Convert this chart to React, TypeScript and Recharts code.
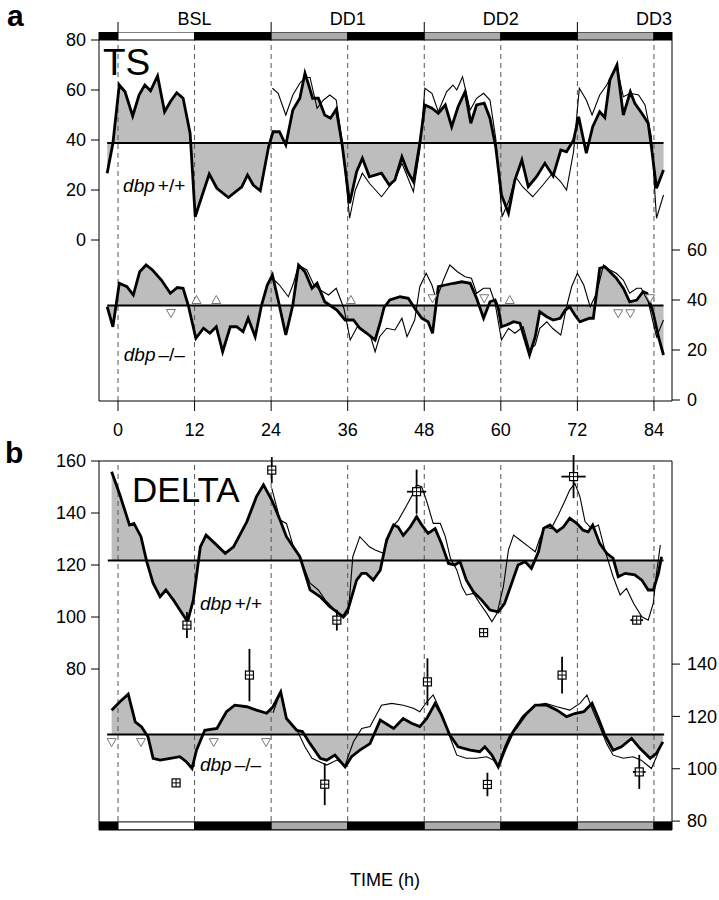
import React from "react";
import {
  Area,
  ComposedChart,
  ErrorBar,
  Line,
  ReferenceArea,
  ReferenceDot,
  ReferenceLine,
  Scatter,
  XAxis,
  YAxis
} from "recharts";

type Pair = [number, number];
// hour, value, y error, x error
type Peak = [number, number, number, number];

document.body.style.margin = "0";

const FONT = "'Liberation Sans', Arial, Helvetica, sans-serif";
const NARROW = "'Liberation Sans Narrow', 'Arial Narrow', 'Liberation Sans', Arial, sans-serif";

// light schedule: baseline LD day, then three days of constant darkness
const schedule: [number, number, string][] = [
  [-3, 0, "dark"],
  [0, 12, "light"],
  [12, 24, "dark"],
  [24, 36, "subjective"],
  [36, 48, "dark"],
  [48, 60, "subjective"],
  [60, 72, "dark"],
  [72, 84, "subjective"],
  [84, 87, "dark"]
];
const phaseFill: Record<string, string> = { dark: "#000", light: "#fff", subjective: "#ababab" };

const hourTicks = [0, 12, 24, 36, 48, 60, 72, 84];
const dayStartTicks = [0, 24, 48, 72];
const phaseLabelHours = [12, 36, 60, 84];
const phaseNames = ["BSL", "DD1", "DD2", "DD3"];

const tsLeftTicks = [0, 20, 40, 60, 80];
const tsRightTicks = [0, 20, 40, 60];
const deltaLeftTicks = [80, 100, 120, 140, 160];
const deltaRightTicks = [80, 100, 120, 140];

// reference (horizontal) levels
const tsWtBase = 38.8;
const tsKoBase = 37.8;
const deltaWtBase = 121.7;
const deltaKoBase = 113.1;

// TS, dbp +/+ (left axis)
const tsWtThick: Pair[] = [
  [-1.7, 26.7], [-0.8, 38.7], [0.2, 62], [1.1, 59.3], [2.3, 49.6], [3.3, 58], [4.2, 62], [5.1, 59.7],
  [6.2, 65.6], [7.3, 51.3], [8.2, 55.3], [9.2, 58.9], [10.2, 56.7], [11.3, 42.7], [12.1, 9.3], [12.6, 13.3],
  [14.3, 26.4], [15.5, 20.7], [17.3, 17], [19.4, 21.3], [20.3, 26], [21.2, 22], [22.3, 19.7], [23.6, 37.3],
  [24.3, 43.3], [25.3, 43.3], [26.3, 38], [27.4, 52], [28.5, 56.7], [29.3, 66.7], [29.8, 62.7], [30.5, 56.7],
  [31.4, 56.7], [32.4, 50], [33.3, 48.7], [34.2, 52.3], [35.1, 38.7], [36.3, 14.7], [37.4, 27.3], [38.3, 32.7],
  [39.4, 25.3], [41.3, 26.7], [42.5, 22], [43.4, 24], [44.5, 33.3], [45.4, 27.3], [46.3, 23.3], [47.3, 38.7],
  [48.1, 54], [49.2, 52.7], [50.2, 50.7], [51.3, 54], [52.3, 45.3], [53.3, 53.3], [54.4, 59.3], [55.3, 46.7],
  [56.2, 54], [57.4, 54.7], [58.3, 48.7], [59.2, 37.3], [60.1, 18], [61.2, 10.7], [62.2, 24], [63.3, 32],
  [64.3, 21.3], [65.6, 25.3], [66.9, 30.7], [68.2, 25.6], [69.4, 36], [70.3, 35.3], [71.4, 40], [72.2, 49.3],
  [73.4, 34.7], [74.4, 45.3], [75.5, 51.3], [76.3, 49], [77.1, 64], [78.2, 70], [79.2, 50], [80.3, 59.3],
  [81, 54.7], [82.1, 50.7], [83.1, 46.7], [83.6, 37.3], [84.4, 20.7], [85.5, 28]
];
const tsWtThin: Pair[] = [
  [24.2, 60.7], [25.1, 58.7], [26.3, 50], [27.4, 58], [28.5, 62.7], [29.3, 65], [30.1, 65], [31.2, 52.7],
  [32.2, 56], [33.2, 58], [34.2, 56], [35.1, 40], [36.3, 8.7], [37.2, 20], [38.3, 26.7], [39.4, 22.7],
  [41.3, 17.3], [42.5, 21.3], [43.4, 24], [44.5, 30.7], [46.3, 19.3], [47.3, 36], [48.1, 60.7], [49.2, 58.7],
  [50.2, 51.3], [51.5, 59.3], [52.5, 62], [53.1, 60], [54, 65.3], [55.2, 52], [56.2, 56.7], [57.3, 58.7],
  [58.3, 56], [59.2, 40.7], [60.2, 9.3], [61.3, 16], [62.3, 25.3], [63.4, 21.3], [65, 17.3], [66.6, 22],
  [68.1, 26.7], [69.4, 23.3], [70.3, 20], [71.4, 35.3], [72.3, 60.7], [73.4, 56], [74.3, 50], [75.5, 58],
  [76.6, 62], [77.5, 66.7], [78.2, 69.3], [79.2, 57.3], [80.3, 58.7], [81.6, 58], [82.6, 54], [83.6, 41.3],
  [84.4, 8.7], [85.5, 18]
];

// TS, dbp -/- (right axis)
const tsKoThick: Pair[] = [
  [-1.7, 37.3], [-0.8, 29.3], [0.2, 46.7], [1.4, 45.3], [2.4, 42], [3.4, 51.3], [4.4, 54], [5.4, 52],
  [6.8, 48], [8.2, 42.7], [9.3, 45], [10.2, 44.7], [11, 38], [12.2, 24.7], [13.4, 28.7], [14.4, 26.7],
  [15.4, 29.3], [16.4, 19.3], [17.6, 29.3], [18.6, 29.3], [19.6, 27.3], [20.4, 32.7], [21.5, 25.3], [22.5, 38],
  [23.4, 46], [24.2, 50], [25.1, 40], [26.3, 26], [27.4, 38], [28.3, 54], [29.3, 51.3], [30.4, 44.7],
  [31.2, 46.7], [32.4, 39.3], [34.3, 36], [35.6, 32], [36.9, 32], [37.9, 28.7], [39, 26.7], [40.3, 24],
  [41.1, 31], [41.7, 37], [42.6, 40], [44.2, 41.3], [45.5, 40.7], [46.5, 36.7], [47.6, 32.7], [48.6, 31.3],
  [49.3, 26.7], [50.2, 45.3], [51.3, 46], [52.6, 46.7], [53.9, 47.3], [55.2, 46.7], [56.2, 40.7], [57.3, 32.7],
  [58.3, 39.3], [59.1, 40], [59.6, 36.7], [60.1, 29.3], [60.9, 30], [62, 31.3], [63, 30.7], [63.8, 24],
  [64.5, 18], [65.4, 25.3], [66.1, 35.3], [67.2, 33.3], [68.2, 32], [69.3, 32.7], [70.1, 36], [70.8, 37.3],
  [71.6, 34], [72.4, 31.3], [73.9, 32.7], [74.5, 32.7], [75.5, 52.7], [76.3, 53.3], [77.1, 51.3], [78.1, 48.7],
  [79.2, 44.7], [80.2, 39.3], [81.3, 40], [82.3, 43.3], [82.9, 42.7], [83.9, 34.7], [84.7, 25.3], [85.5, 18]
];
const tsKoThin: Pair[] = [
  [24.2, 48.7], [25.3, 46], [26.7, 41.3], [27.5, 46.7], [28.3, 54], [29.6, 52], [30.7, 46], [31.7, 44],
  [33, 42], [34.2, 44.7], [35.4, 36.7], [36.4, 24], [37.5, 29.3], [38.3, 28], [39.6, 25.3], [40.3, 19.3],
  [41, 25.3], [42.1, 28.7], [43.4, 28], [44.5, 32.7], [45.3, 25.3], [46.5, 32], [47.3, 45.3], [48.3, 50.7],
  [49.2, 46], [49.9, 40], [51, 48], [52, 54], [53.2, 51.3], [54.4, 49.3], [55.4, 48.7], [56.2, 42.7],
  [57.3, 44.7], [58.3, 44.7], [59.1, 38.7], [60.1, 24], [61.2, 28.7], [62.2, 26.7], [63.5, 29.3], [64.5, 20],
  [65.4, 22], [66.1, 28.7], [67.2, 31.3], [68.1, 28.7], [69.4, 26], [70.3, 37.3], [71.1, 45.3], [72, 50.7],
  [73, 46], [74, 37.3], [75, 42.7], [76.1, 54], [77.1, 52], [78.1, 50.7], [79.2, 48], [80.2, 42.7],
  [81.3, 44.7], [82, 44.7], [83.1, 39.3], [84.4, 25.3], [85.5, 32]
];
const tsKoUp: Pair[] = [[12.3, 40], [15.4, 40], [36.5, 40], [61.4, 40]];
const tsKoDown: Pair[] = [[8.3, 34.8], [49.3, 40.7], [57.4, 40.7], [78.4, 34.7], [80.3, 34.7], [83.4, 40.7]];

// DELTA, dbp +/+ (left axis)
const deltaWtThick: Pair[] = [
  [-1, 155.9], [0.3, 146.9], [1.8, 135.4], [2.5, 136], [3.6, 130.9], [4.5, 121.3], [5.5, 113], [6.6, 107.8],
  [7.5, 110.4], [8.7, 106.5], [9.7, 102.7], [10.9, 98.2], [11.8, 106.5], [12.9, 127], [13.8, 131.5], [14.9, 129],
  [16.8, 124.5], [18.1, 127], [20.2, 136.7], [21.7, 146.3], [22.8, 150.8], [24.1, 145], [25.4, 137.3], [26.4, 130.9],
  [28.5, 123.2], [30.1, 110.4], [31.7, 107.8], [33.2, 104], [35.3, 100.1], [36.1, 103.3], [37.4, 114.2], [38.2, 116.8],
  [38.9, 116.8], [40, 114.2], [41.1, 118], [42.1, 129.6], [43.2, 135.4], [43.9, 134.6], [44.7, 131.4], [45.8, 134.6],
  [46.8, 138.6], [47.6, 135.4], [48.6, 132.2], [49.7, 134], [50.7, 128.3], [51.8, 120.6], [52.8, 120], [53.6, 121.3],
  [54.6, 114.2], [55.7, 109.7], [57, 106.5], [58.3, 102.7], [59.6, 102], [60.6, 105.3], [61.7, 113], [62.7, 120],
  [63.8, 121.3], [64.8, 118.7], [65.9, 125.1], [66.7, 134.1], [67.7, 135.4], [68.8, 132.8], [69.8, 134.6], [70.8, 138],
  [71.9, 136], [72.9, 133.4], [73.7, 132.8], [74.4, 135.4], [75.5, 128.3], [76.6, 124.5], [77.6, 122.6], [78.4, 115.5],
  [79.5, 116.8], [81, 116.2], [82.1, 114.2], [83.1, 110.4], [83.9, 110.4], [84.7, 116.8], [85.2, 123.2]
];
const deltaWtThin: Pair[] = [
  [24.1, 149.5], [25.4, 137.3], [26.4, 136], [27.5, 127], [28.5, 123.2], [30.1, 113], [31.4, 110.4], [32.5, 106.5],
  [35.3, 99.5], [36.1, 101.5], [36.8, 123.2], [37.9, 130.9], [39.4, 127], [40.3, 125.8], [41.6, 124.5], [42.9, 134.6],
  [43.9, 137.1], [45, 141.8], [46, 146.3], [46.8, 150.8], [47.6, 150.1], [48.4, 144.4], [49.4, 136], [50.5, 136],
  [51.3, 130.9], [52.1, 122.6], [53.1, 118.1], [53.9, 111.7], [54.6, 108.5], [55.7, 109.1], [56.7, 105.3], [57.8, 101.4],
  [58.6, 98.2], [59.4, 101.4], [60.4, 111.7], [61.2, 125.8], [62, 131.5], [63, 129.6], [64.4, 127], [65.4, 125.1],
  [66.1, 130.2], [66.9, 134.6], [67.9, 134], [69, 139.2], [70, 144.4], [70.8, 148.8], [71.6, 151.4], [72.4, 146.3],
  [73.2, 136.7], [74.2, 134], [75.3, 135.4], [76.3, 125.8], [77.6, 115.5], [78.7, 108.5], [79.7, 111], [80.8, 105.3],
  [82.1, 100.1], [83.1, 98.8], [83.9, 105.3], [84.4, 116.8], [85, 127.7]
];
const deltaWtPeaks: Peak[] = [
  [10.8, 96.9, 5, 0], [24.1, 156.5, 5, 0], [34.3, 98.8, 4, 0], [46.8, 148.2, 8.5, 1.5],
  [57.3, 94, 1, 0], [71.4, 154, 8.3, 1.9], [81.3, 98.8, 1, 1]
];

// DELTA, dbp -/- (right axis)
const deltaKoThick: Pair[] = [
  [-1, 122.4], [0.3, 125.6], [1.6, 128.5], [2.7, 117.9], [3.7, 116], [4.7, 112.2], [5.5, 104], [6.6, 103.3],
  [8.2, 104], [9.7, 104.6], [10.7, 102.7], [11.6, 100.1], [12.3, 107.1], [13.6, 114.7], [15.5, 115.4], [17, 121.8],
  [18.3, 124.3], [20.2, 123.7], [21.7, 122.4], [23.3, 121.2], [24.3, 123.7], [25.5, 129.4], [26.4, 119.2], [28, 114.7],
  [28.9, 114.2], [30.1, 109.6], [31.7, 104], [32.7, 103.3], [34, 105.2], [35.6, 100.7], [36.6, 104.6], [37.9, 107.1],
  [39.5, 109.6], [41.1, 118.6], [43.2, 115.4], [44.7, 119.2], [46, 117.4], [47.3, 116.1], [48.4, 119.2], [49.7, 125],
  [50.7, 120.6], [52, 112.9], [53.3, 108.4], [55.2, 107.1], [56.7, 106.5], [57.5, 108.4], [58.6, 105.2], [59.6, 100.7],
  [60.6, 107.1], [61.9, 114.1], [63.5, 119.9], [65.4, 124.3], [67.2, 124.3], [68.8, 122.4], [70.3, 119.9], [71.6, 121.1],
  [73, 121.8], [74.3, 125], [75.3, 119.2], [76.3, 112.9], [77.6, 107.1], [78.9, 108.4], [80.5, 111.6], [81.8, 107.8],
  [83.4, 104], [84.4, 105.9], [85.4, 110.3]
];
const deltaKoThin: Pair[] = [
  [24.3, 121.4], [25.5, 129.4], [26.4, 119.2], [28, 115], [29.3, 108.4], [30.4, 104], [32.7, 101.4], [34.3, 103.3],
  [35.6, 101.4], [36.9, 110.3], [38.2, 115.4], [39.5, 116.1], [41.3, 124.3], [42.9, 125], [44.7, 124.3], [46.3, 123.1],
  [47.3, 121.8], [48.4, 125.6], [49.4, 128.2], [50.5, 122.4], [52, 112.2], [53.1, 105.2], [54.6, 104], [56.2, 104],
  [57.8, 104.6], [58.8, 103.3], [59.6, 101.4], [60.6, 108.4], [61.4, 112.9], [62.5, 115.4], [64, 120.6], [65.4, 124.3],
  [67, 125], [68.8, 123.7], [70.8, 122.4], [72.4, 125], [73.5, 128.2], [74.5, 121.8], [75.5, 116.1], [76.6, 109.6],
  [77.6, 105.2], [79.2, 104], [80.7, 104.6], [82, 103.3], [83.6, 100.1], [84.4, 104.6], [85.2, 109.6]
];
const deltaKoPeaks: Peak[] = [
  [9.1, 94.6, 1, 0], [20.6, 135.8, 10, 0], [32.4, 94.1, 8, 0], [48.5, 133.2, 9, 0],
  [57.9, 94, 4.5, 0], [69.6, 135.8, 7, 0], [81.7, 98.8, 6.5, 1]
];
const deltaKoDown: Pair[] = [[-1, 110.2], [3.6, 110.2], [15, 110.2], [23.2, 110.2]];

// axis windows (set so both panels share the page frame of the figure)
const X_DOMAIN: [number, number] = [-2.98, 86.83];
const TS_LEFT_DOMAIN: [number, number] = [-64.4, 83.2];
const TS_RIGHT_DOMAIN: [number, number] = [-0.4, 147.2];
const DELTA_LEFT_DOMAIN: [number, number] = [18.1, 160];
const DELTA_RIGHT_DOMAIN: [number, number] = [76.6, 217.6];

const FILL = "#bdbdbd";
const tickStyle = { fontSize: 18, fill: "#000", fontFamily: FONT };

const pts = (arr: Pair[]) => arr.map(([h, v]) => ({ h, v }));
const peaks = (arr: Peak[]) => arr.map(([h, v, ey, ex]) => ({ h, v, ey, ex }));

function DayTick(props: any) {
  const { x, y, payload } = props;
  const value = payload?.value;
  const idx = phaseLabelHours.indexOf(value);
  if (idx >= 0) {
    return (
      <text x={x} y={y - 7} textAnchor="middle" fontSize={18} fontFamily={FONT} fill="#000">
        {phaseNames[idx]}
      </text>
    );
  }
  if (dayStartTicks.includes(value)) {
    return <line x1={x} x2={x} y1={y - 10} y2={y} stroke="#000" strokeWidth={1} />;
  }
  return null;
}

function BigText(props: any) {
  const vb = props.viewBox ?? {};
  return (
    <text x={vb.x} y={vb.y} fontSize={props.size} fontFamily={NARROW} fill="#000">
      {props.text}
    </text>
  );
}

function Genotype(props: any) {
  const vb = props.viewBox ?? {};
  return (
    <text x={vb.x} y={vb.y} fontSize={19} fontFamily={FONT} fill="#000">
      <tspan fontStyle="italic">dbp</tspan>
      <tspan dx={3}>{props.sign}</tspan>
    </text>
  );
}

function TriUp(p: any) {
  const { cx, cy } = p;
  return <path d={`M${cx},${cy - 4.5}L${cx + 4.5},${cy + 3.5}L${cx - 4.5},${cy + 3.5}Z`} fill="#fff" stroke="#777" strokeWidth={1} />;
}

function TriDown(p: any) {
  const { cx, cy } = p;
  return <path d={`M${cx},${cy + 4.5}L${cx + 4.5},${cy - 3.5}L${cx - 4.5},${cy - 3.5}Z`} fill="#fff" stroke="#777" strokeWidth={1} />;
}

function BoxCross(p: any) {
  const { cx, cy } = p;
  return (
    <g>
      <rect x={cx - 4} y={cy - 4} width={8} height={8} fill="#fff" stroke="#000" strokeWidth={1.2} />
      <line x1={cx - 4} x2={cx + 4} y1={cy} y2={cy} stroke="#000" strokeWidth={1} />
      <line x1={cx} x2={cx} y1={cy - 4} y2={cy + 4} stroke="#000" strokeWidth={1} />
    </g>
  );
}

function DashedHours() {
  return null;
}

function PanelTS() {
  return (
    <ComposedChart width={719} height={441} margin={{ top: 0, right: 2, bottom: 0, left: 49 }}>
      <XAxis
        xAxisId="top"
        orientation="top"
        type="number"
        dataKey="h"
        domain={X_DOMAIN}
        allowDataOverflow
        ticks={[0, 12, 24, 36, 48, 60, 72, 84]}
        interval={0}
        height={32}
        axisLine={false}
        tickLine={false}
        tickSize={0}
        tickMargin={0}
        tick={<DayTick />}
      />
      <XAxis
        type="number"
        dataKey="h"
        domain={X_DOMAIN}
        allowDataOverflow
        ticks={hourTicks}
        interval={0}
        height={40}
        tickSize={10}
        tickMargin={12}
        stroke="#000"
        tick={tickStyle}
      />
      <YAxis type="number" domain={TS_LEFT_DOMAIN} allowDataOverflow ticks={tsLeftTicks} interval={0} width={50} tickSize={8} tickMargin={5} stroke="#000" tick={tickStyle} />
      <YAxis yAxisId="r" orientation="right" type="number" domain={TS_RIGHT_DOMAIN} allowDataOverflow ticks={tsRightTicks} interval={0} width={45} tickSize={8} tickMargin={7} stroke="#000" tick={tickStyle} />

      {hourTicks.map((h) => (
        <ReferenceLine key={`d${h}`} x={h} stroke="#555" strokeDasharray="5 4" strokeWidth={1} zIndex={150} />
      ))}

      <Area data={pts(tsWtThick)} dataKey="v" type="linear" baseValue={tsWtBase} fill={FILL} fillOpacity={1} stroke="none" isAnimationActive={false} />
      <Area data={pts(tsKoThick)} dataKey="v" yAxisId="r" type="linear" baseValue={tsKoBase} fill={FILL} fillOpacity={1} stroke="none" isAnimationActive={false} />

      {schedule.map(([from, to, phase]) => (
        <ReferenceArea key={`s${from}`} x1={from} x2={to} y1={80} y2={83.2} fill={phaseFill[phase]} fillOpacity={1} stroke="#000" strokeWidth={1} ifOverflow="hidden" zIndex={160} />
      ))}

      <ReferenceLine segment={[{ x: -1.7, y: tsWtBase }, { x: 85.5, y: tsWtBase }]} stroke="#000" strokeWidth={2} ifOverflow="visible" zIndex={450} />
      <ReferenceLine yAxisId="r" segment={[{ x: -1.7, y: tsKoBase }, { x: 85.5, y: tsKoBase }]} stroke="#000" strokeWidth={2} ifOverflow="visible" zIndex={450} />

      <Line data={pts(tsWtThin)} dataKey="v" type="linear" stroke="#000" strokeWidth={1.1} dot={false} isAnimationActive={false} />
      <Line data={pts(tsWtThick)} dataKey="v" type="linear" stroke="#000" strokeWidth={2.8} dot={false} isAnimationActive={false} />
      <Line data={pts(tsKoThin)} dataKey="v" yAxisId="r" type="linear" stroke="#000" strokeWidth={1.1} dot={false} isAnimationActive={false} />
      <Line data={pts(tsKoThick)} dataKey="v" yAxisId="r" type="linear" stroke="#000" strokeWidth={2.8} dot={false} isAnimationActive={false} />

      <Scatter data={pts(tsKoUp)} dataKey="v" yAxisId="r" shape={TriUp} isAnimationActive={false} />
      <Scatter data={pts(tsKoDown)} dataKey="v" yAxisId="r" shape={TriDown} isAnimationActive={false} />

      <ReferenceDot x={-2.35} y={66} r={0} fill="none" stroke="none" label={<BigText text="TS" size={37} />} />
      <ReferenceDot x={0.8} y={19.2} r={0} fill="none" stroke="none" label={<Genotype sign="+/+" />} />
      <ReferenceDot x={0.9} y={15.6} yAxisId="r" r={0} fill="none" stroke="none" label={<Genotype sign={"\u2013/\u2013"} />} />
    </ComposedChart>
  );
}

function PanelDelta() {
  return (
    <ComposedChart width={719} height={405} margin={{ top: 0, right: 2, bottom: 0, left: 49 }}>
      <XAxis
        xAxisId="top"
        orientation="top"
        type="number"
        dataKey="h"
        domain={X_DOMAIN}
        allowDataOverflow
        ticks={hourTicks}
        interval={0}
        height={21}
        tickSize={9}
        tick={false}
        stroke="#000"
      />
      <XAxis
        type="number"
        dataKey="h"
        domain={X_DOMAIN}
        allowDataOverflow
        ticks={dayStartTicks}
        interval={0}
        height={15}
        tickSize={10}
        tick={false}
        stroke="#000"
      />
      <YAxis type="number" domain={DELTA_LEFT_DOMAIN} allowDataOverflow ticks={deltaLeftTicks} interval={0} width={50} tickSize={8} tickMargin={5} stroke="#000" tick={tickStyle} />
      <YAxis yAxisId="r" orientation="right" type="number" domain={DELTA_RIGHT_DOMAIN} allowDataOverflow ticks={deltaRightTicks} interval={0} width={45} tickSize={8} tickMargin={7} stroke="#000" tick={tickStyle} />

      {hourTicks.map((h) => (
        <ReferenceLine key={`d${h}`} x={h} stroke="#555" strokeDasharray="5 4" strokeWidth={1} zIndex={150} />
      ))}

      <Area data={pts(deltaWtThick)} dataKey="v" type="linear" baseValue={deltaWtBase} fill={FILL} fillOpacity={1} stroke="none" isAnimationActive={false} />
      <Area data={pts(deltaKoThick)} dataKey="v" yAxisId="r" type="linear" baseValue={deltaKoBase} fill={FILL} fillOpacity={1} stroke="none" isAnimationActive={false} />

      {schedule.map(([from, to, phase]) => (
        <ReferenceArea key={`s${from}`} yAxisId="r" x1={from} x2={to} y1={76.6} y2={79.7} fill={phaseFill[phase]} fillOpacity={1} stroke="#000" strokeWidth={1} ifOverflow="hidden" zIndex={160} />
      ))}

      <ReferenceLine segment={[{ x: -1.6, y: deltaWtBase }, { x: 85.5, y: deltaWtBase }]} stroke="#000" strokeWidth={2} ifOverflow="visible" zIndex={450} />
      <ReferenceLine yAxisId="r" segment={[{ x: -1.7, y: deltaKoBase }, { x: 85.6, y: deltaKoBase }]} stroke="#000" strokeWidth={2} ifOverflow="visible" zIndex={450} />

      <Line data={pts(deltaWtThin)} dataKey="v" type="linear" stroke="#000" strokeWidth={1.1} dot={false} isAnimationActive={false} />
      <Line data={pts(deltaWtThick)} dataKey="v" type="linear" stroke="#000" strokeWidth={2.8} dot={false} isAnimationActive={false} />
      <Line data={pts(deltaKoThin)} dataKey="v" yAxisId="r" type="linear" stroke="#000" strokeWidth={1.1} dot={false} isAnimationActive={false} />
      <Line data={pts(deltaKoThick)} dataKey="v" yAxisId="r" type="linear" stroke="#000" strokeWidth={2.8} dot={false} isAnimationActive={false} />

      <Scatter data={peaks(deltaWtPeaks)} dataKey="v" shape={BoxCross} isAnimationActive={false}>
        <ErrorBar dataKey="ey" direction="y" width={0} stroke="#000" strokeWidth={1.8} isAnimationActive={false} />
        <ErrorBar dataKey="ex" direction="x" width={0} stroke="#000" strokeWidth={1.8} isAnimationActive={false} />
      </Scatter>
      <Scatter data={peaks(deltaKoPeaks)} dataKey="v" yAxisId="r" shape={BoxCross} isAnimationActive={false}>
        <ErrorBar dataKey="ey" direction="y" width={0} stroke="#000" strokeWidth={1.8} isAnimationActive={false} />
        <ErrorBar dataKey="ex" direction="x" width={0} stroke="#000" strokeWidth={1.8} isAnimationActive={false} />
      </Scatter>
      <Scatter data={pts(deltaKoDown)} dataKey="v" yAxisId="r" shape={TriDown} isAnimationActive={false} />

      <ReferenceDot x={2.2} y={144.2} r={0} fill="none" stroke="none" label={<BigText text="DELTA" size={35} />} />
      <ReferenceDot x={12.85} y={102.7} r={0} fill="none" stroke="none" label={<Genotype sign="+/+" />} />
      <ReferenceDot x={12.85} y={99.1} yAxisId="r" r={0} fill="none" stroke="none" label={<Genotype sign={"\u2013/\u2013"} />} />
    </ComposedChart>
  );
}

export default function App() {
  return (
    <div style={{ position: "relative", width: 719, height: 900, background: "#fff", overflow: "hidden" }}>
      <div style={{ position: "absolute", left: 0, top: 0 }}>
        <PanelTS />
      </div>
      <div style={{ position: "absolute", left: 0, top: 440 }}>
        <PanelDelta />
      </div>
      <svg width={719} height={900} style={{ position: "absolute", left: 0, top: 0, pointerEvents: "none" }}>
        <text x={7} y={26} fontSize={30} fontWeight="bold" fontFamily={FONT} fill="#000">a</text>
        <text x={5} y={463} fontSize={30} fontWeight="bold" fontFamily={FONT} fill="#000">b</text>
        <text x={385} y={886} textAnchor="middle" fontSize={18} fontFamily={FONT} fill="#000">TIME (h)</text>
      </svg>
    </div>
  );
}
